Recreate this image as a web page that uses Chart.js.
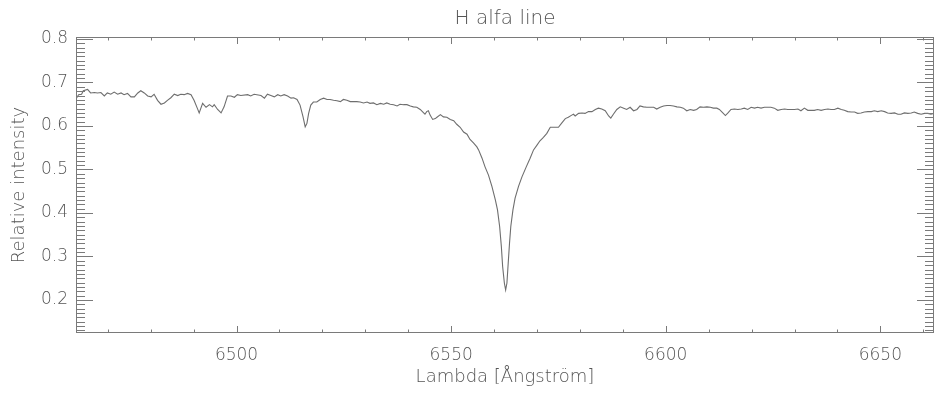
<!DOCTYPE html>
<html>
<head>
<meta charset="utf-8">
<script src="https://cdn.jsdelivr.net/npm/chart.js@4"></script>
<style>
  html, body { margin: 0; padding: 0; background: #fff; }
  #wrap { width: 936px; height: 394px; }
</style>
</head>
<body>
<div id="wrap"><canvas id="spectrum"></canvas></div>
<script>
// Wavelength in Angstrom
const wavelength = [
  6462.6, 6463.2, 6463.9, 6464.3, 6465.3, 6466.0, 6466.9, 6467.6, 6468.4, 6469.2,
  6469.9, 6470.7, 6471.5, 6472.3, 6473.1, 6473.8, 6474.6, 6475.4, 6476.2, 6477.0,
  6477.7, 6478.5, 6479.3, 6480.1, 6480.8, 6481.6, 6482.4, 6483.2, 6483.9, 6484.7,
  6485.5, 6486.3, 6487.0, 6487.8, 6488.6, 6489.4, 6490.1, 6490.9, 6491.3, 6492.1,
  6492.9, 6493.7, 6494.4, 6494.8, 6495.6, 6496.4, 6497.1, 6497.9, 6498.7, 6499.5,
  6500.2, 6501.0, 6502.6, 6503.3, 6504.1, 6505.7, 6506.5, 6507.2, 6508.0, 6508.8,
  6509.6, 6510.3, 6511.1, 6511.9, 6512.7, 6513.3, 6514.1, 6514.8, 6515.5, 6516.0,
  6516.4, 6516.8, 6517.3, 6517.9, 6518.7, 6519.5, 6520.3, 6521.1, 6521.8, 6522.6,
  6523.4, 6524.2, 6524.9, 6525.7, 6526.5, 6527.3, 6528.0, 6528.8, 6529.6, 6530.4,
  6531.1, 6531.9, 6532.7, 6533.5, 6534.3, 6535.0, 6535.8, 6536.6, 6537.4, 6538.1,
  6538.9, 6539.7, 6540.5, 6541.2, 6542.0, 6542.8, 6543.6, 6543.9, 6544.3, 6544.7,
  6545.1, 6545.7, 6546.3, 6546.7, 6547.5, 6548.2, 6549.0, 6549.8, 6550.6, 6551.3,
  6552.1, 6552.9, 6553.7, 6554.4, 6555.2, 6556.0, 6556.4, 6557.2, 6557.9, 6558.7,
  6559.5, 6560.3, 6560.8, 6561.3, 6561.7, 6562.0, 6562.4, 6562.7, 6563.0, 6563.3,
  6563.6, 6563.9, 6564.4, 6564.9, 6565.7, 6566.5, 6567.5, 6568.4, 6569.2, 6570.0,
  6570.7, 6571.5, 6572.3, 6573.1, 6573.9, 6575.0, 6575.8, 6576.6, 6577.3, 6578.1,
  6578.5, 6578.9, 6579.7, 6580.5, 6581.2, 6582.0, 6582.8, 6583.6, 6584.3, 6585.1,
  6585.9, 6586.7, 6587.2, 6587.8, 6588.6, 6589.4, 6590.2, 6590.9, 6591.7, 6592.5,
  6593.3, 6594.0, 6594.8, 6595.6, 6596.4, 6597.2, 6597.9, 6598.7, 6599.5, 6600.3,
  6601.0, 6601.8, 6602.6, 6603.4, 6604.1, 6604.9, 6605.7, 6606.5, 6607.2, 6608.0,
  6608.8, 6609.6, 6610.4, 6611.1, 6611.9, 6612.5, 6613.3, 6613.9, 6614.5, 6615.2,
  6616.0, 6616.8, 6617.6, 6618.3, 6619.1, 6619.9, 6620.7, 6621.4, 6622.2, 6623.0,
  6623.8, 6624.5, 6625.3, 6626.1, 6626.9, 6627.7, 6628.4, 6629.2, 6630.0, 6630.8,
  6631.5, 6632.3, 6633.1, 6633.9, 6634.6, 6635.4, 6636.2, 6637.0, 6637.8, 6638.5,
  6639.3, 6640.1, 6640.9, 6641.6, 6642.4, 6643.2, 6644.0, 6644.7, 6645.5, 6646.3,
  6647.1, 6647.9, 6648.6, 6649.4, 6650.2, 6651.0, 6651.7, 6652.5, 6653.3, 6654.1,
  6654.8, 6655.6, 6656.4, 6657.2, 6657.9, 6658.7, 6659.5, 6660.3, 6661.1, 6661.8,
  6662.5
];

// Relative intensity at each wavelength
const intensity = [
  0.662, 0.672, 0.673, 0.681, 0.684, 0.676, 0.677, 0.676, 0.677, 0.669,
  0.676, 0.673, 0.678, 0.673, 0.676, 0.672, 0.675, 0.667, 0.667, 0.676,
  0.681, 0.676, 0.669, 0.667, 0.673, 0.659, 0.650, 0.653, 0.659, 0.665,
  0.673, 0.670, 0.673, 0.672, 0.675, 0.672, 0.659, 0.640, 0.630, 0.652,
  0.643, 0.649, 0.644, 0.649, 0.638, 0.630, 0.644, 0.669, 0.669, 0.666,
  0.672, 0.670, 0.672, 0.669, 0.673, 0.670, 0.664, 0.673, 0.670, 0.667,
  0.672, 0.669, 0.672, 0.669, 0.664, 0.665, 0.661, 0.648, 0.621, 0.598,
  0.606, 0.629, 0.648, 0.655, 0.655, 0.661, 0.664, 0.661, 0.661, 0.659,
  0.658, 0.656, 0.661, 0.659, 0.656, 0.656, 0.656, 0.655, 0.653, 0.655,
  0.652, 0.653, 0.649, 0.652, 0.650, 0.653, 0.650, 0.649, 0.646, 0.650,
  0.649, 0.649, 0.646, 0.644, 0.643, 0.638, 0.630, 0.627, 0.633, 0.635,
  0.625, 0.615, 0.617, 0.620, 0.626, 0.621, 0.620, 0.615, 0.612, 0.604,
  0.597, 0.586, 0.581, 0.569, 0.561, 0.552, 0.545, 0.526, 0.506, 0.487,
  0.461, 0.430, 0.407, 0.369, 0.323, 0.277, 0.239, 0.223, 0.239, 0.285,
  0.330, 0.369, 0.407, 0.434, 0.461, 0.483, 0.506, 0.526, 0.545, 0.556,
  0.566, 0.574, 0.583, 0.597, 0.597, 0.597, 0.607, 0.617, 0.620, 0.625,
  0.627, 0.623, 0.629, 0.630, 0.629, 0.633, 0.633, 0.638, 0.641, 0.639,
  0.635, 0.623, 0.618, 0.627, 0.638, 0.644, 0.641, 0.638, 0.643, 0.635,
  0.638, 0.646, 0.644, 0.643, 0.643, 0.643, 0.639, 0.643, 0.646, 0.647,
  0.647, 0.646, 0.644, 0.643, 0.641, 0.635, 0.638, 0.636, 0.638, 0.644,
  0.643, 0.644, 0.643, 0.641, 0.641, 0.638, 0.630, 0.624, 0.630, 0.638,
  0.639, 0.638, 0.639, 0.641, 0.638, 0.643, 0.641, 0.643, 0.641, 0.643,
  0.643, 0.643, 0.641, 0.636, 0.638, 0.639, 0.638, 0.638, 0.638, 0.639,
  0.635, 0.641, 0.636, 0.636, 0.636, 0.638, 0.636, 0.638, 0.639, 0.638,
  0.638, 0.641, 0.638, 0.636, 0.633, 0.632, 0.632, 0.629, 0.630, 0.632,
  0.633, 0.633, 0.635, 0.633, 0.635, 0.633, 0.630, 0.629, 0.630, 0.627,
  0.627, 0.630, 0.629, 0.630, 0.632, 0.629, 0.627, 0.629, 0.629, 0.627,
  0.629
];

const xRange = [6462.6, 6662.5];
const yRange = [0.124, 0.8046];
const xTickLabels = [6500, 6550, 6600, 6650];
const yTickLabels = [0.2, 0.3, 0.4, 0.5, 0.6, 0.7, 0.8];

const inkColor = '#6e6e6e';
const textColor = '#555555';
const axisColor = '#7a7a7a';
const fontFamily = "'DejaVu Sans ExtraLight', 'DejaVu Sans', sans-serif";

// IDL style frame: box on all four sides, ticks pointing inwards
const frameTicks = {
    id: 'frameTicks',
    afterDraw: (chart) => {
        const { ctx, chartArea: a, scales } = chart;
        const xs = scales.x, ys = scales.y;
        ctx.save();
        ctx.strokeStyle = axisColor;
        ctx.lineWidth = 1;
        ctx.strokeRect(a.left + 0.5, a.top + 0.5, a.right - a.left - 1, a.bottom - a.top - 1);
        ctx.beginPath();
        for (let i = Math.ceil(xs.min / 10); i * 10 <= xs.max; i++) {
            const len = i % 5 === 0 ? 7 : 3.5;
            const px = Math.round(xs.getPixelForValue(i * 10)) + 0.5;
            ctx.moveTo(px, a.bottom); ctx.lineTo(px, a.bottom - len);
            ctx.moveTo(px, a.top); ctx.lineTo(px, a.top + len);
        }
        for (let i = Math.ceil(ys.min * 100); i <= Math.floor(ys.max * 100); i++) {
            const len = i % 10 === 0 ? 17 : 9;
            const py = Math.round(ys.getPixelForValue(i / 100)) + 0.5;
            ctx.moveTo(a.left, py); ctx.lineTo(a.left + len, py);
            ctx.moveTo(a.right, py); ctx.lineTo(a.right - len, py);
        }
        ctx.stroke();
        ctx.restore();
    }
};

const points = wavelength.map((w, i) => ({ x: w, y: intensity[i] }));

new Chart(document.getElementById('spectrum'), {
    type: 'line',
    data: {
        datasets: [{
            data: points,
            borderColor: inkColor,
            borderWidth: 1.1,
            pointRadius: 0,
            tension: 0,
            fill: false
        }]
    },
    options: {
        responsive: true,
        maintainAspectRatio: false,
        animation: false,
        layout: { padding: { left: 0, right: 2, top: 0, bottom: 0 } },
        plugins: {
            legend: { display: false },
            tooltip: { enabled: false },
            title: {
                display: true,
                text: 'H alfa line',
                fullSize: false,
                color: textColor,
                font: { family: fontFamily, size: 20, weight: '200', lineHeight: 1.2 },
                padding: { top: 7, bottom: 6 }
            }
        },
        scales: {
            x: {
                type: 'linear',
                min: xRange[0],
                max: xRange[1],
                afterFit: (scale) => { scale.height = 61; },
                afterBuildTicks: (scale) => { scale.ticks = xTickLabels.map(v => ({ value: v })); },
                grid: { display: false, drawTicks: false },
                border: { display: false },
                ticks: {
                    color: textColor,
                    padding: 12,
                    maxRotation: 0,
                    font: { family: fontFamily, size: 17, weight: '200' },
                    callback: (v) => String(v)
                },
                title: {
                    display: true,
                    text: 'Lambda [Ångström]',
                    color: textColor,
                    font: { family: fontFamily, size: 18, weight: '200' },
                    padding: { top: 0, bottom: 6 }
                }
            },
            y: {
                type: 'linear',
                min: yRange[0],
                max: yRange[1],
                afterFit: (scale) => { scale.width = 76; },
                afterBuildTicks: (scale) => { scale.ticks = yTickLabels.map(v => ({ value: v })); },
                grid: { display: false, drawTicks: false },
                border: { display: false },
                ticks: {
                    color: textColor,
                    padding: 8,
                    font: { family: fontFamily, size: 17, weight: '200' },
                    callback: (v) => v.toFixed(1)
                },
                title: {
                    display: true,
                    text: 'Relative intensity',
                    color: textColor,
                    font: { family: fontFamily, size: 18, weight: '200' },
                    padding: { top: 9, bottom: 0 }
                }
            }
        }
    },
    plugins: [frameTicks]
});
</script>
</body>
</html>
